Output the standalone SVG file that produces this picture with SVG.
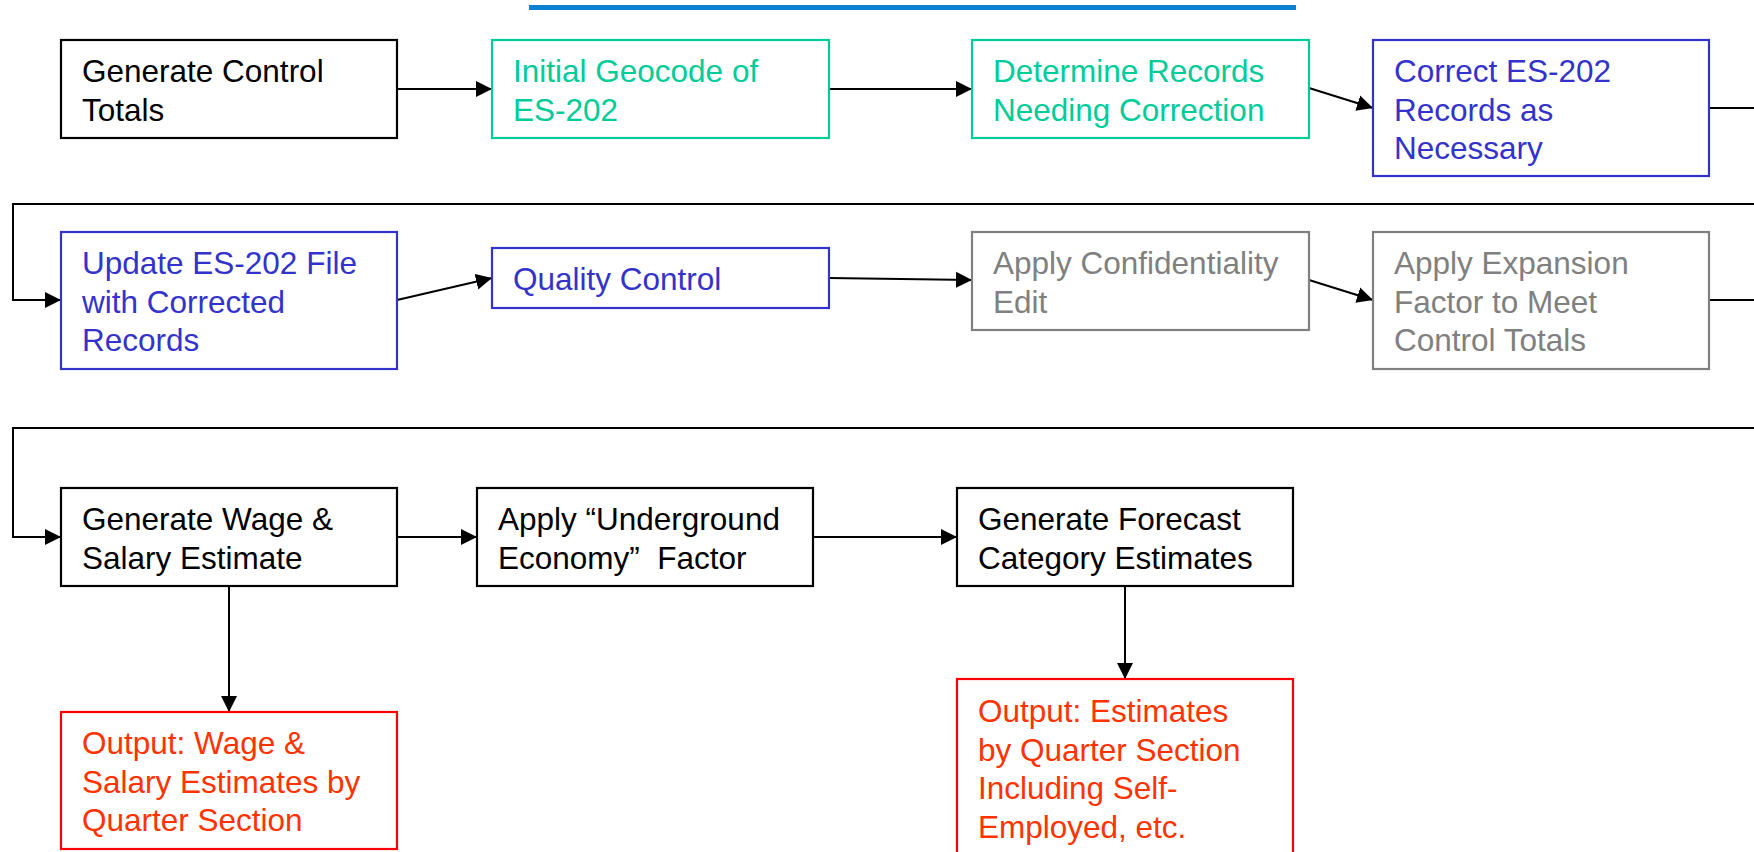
<svg xmlns="http://www.w3.org/2000/svg" width="1754" height="852" viewBox="0 0 1754 852">
<style>
  .box { fill: #ffffff; stroke-width: 2.2; }
  .k { stroke: #000000; }
  .g { stroke: #00CC99; }
  .b { stroke: #3333CC; }
  .gr { stroke: #808080; }
  .r { stroke: #FF0000; }
  text { font-family: "Liberation Sans", Arial, sans-serif; font-size: 31.5px; }
  .tk { fill: #000000; }
  .tg { fill: #00CC99; }
  .tb { fill: #3333CC; }
  .tgr { fill: #808080; }
  .tr { fill: #FF3300; }
  .conn { fill: none; stroke: #000000; stroke-width: 2; }
</style>
<defs>
  <marker id="ah" markerUnits="userSpaceOnUse" markerWidth="17" markerHeight="17" viewBox="0 0 17 17" refX="16" refY="8.5" orient="auto">
    <path d="M0,0.5 L16,8.5 L0,16.5 Z" fill="#000000"/>
  </marker>
</defs>
<rect width="1754" height="852" fill="#ffffff"/>
<line x1="529" y1="7.5" x2="1296" y2="7.5" stroke="#0B7FD0" stroke-width="5"/>

<g id="connectors">
  <line class="conn" x1="397" y1="89" x2="492" y2="89" marker-end="url(#ah)"/>
  <line class="conn" x1="829" y1="89" x2="972" y2="89" marker-end="url(#ah)"/>
  <line class="conn" x1="1309" y1="88" x2="1373" y2="108" marker-end="url(#ah)"/>
  <polyline class="conn" points="1709,108 1754,108"/>
  <polyline class="conn" points="1760,204 13,204 13,300 61,300" marker-end="url(#ah)"/>
  <line class="conn" x1="397" y1="300" x2="492" y2="278" marker-end="url(#ah)"/>
  <line class="conn" x1="829" y1="278" x2="972" y2="280" marker-end="url(#ah)"/>
  <line class="conn" x1="1309" y1="280" x2="1373" y2="300" marker-end="url(#ah)"/>
  <polyline class="conn" points="1709,300 1754,300"/>
  <polyline class="conn" points="1760,428 13,428 13,537 61,537" marker-end="url(#ah)"/>
  <line class="conn" x1="397" y1="537" x2="477" y2="537" marker-end="url(#ah)"/>
  <line class="conn" x1="813" y1="537" x2="957" y2="537" marker-end="url(#ah)"/>
  <line class="conn" x1="229" y1="586" x2="229" y2="712" marker-end="url(#ah)"/>
  <line class="conn" x1="1125" y1="586" x2="1125" y2="679" marker-end="url(#ah)"/>
</g>

<g id="n1">
  <rect class="box k" x="61" y="40" width="336" height="98"/>
  <text class="tk" x="82" y="82">Generate Control</text>
  <text class="tk" x="82" y="120.5">Totals</text>
</g>
<g id="n2">
  <rect class="box g" x="492" y="40" width="337" height="98"/>
  <text class="tg" x="513" y="82">Initial Geocode of</text>
  <text class="tg" x="513" y="120.5">ES-202</text>
</g>
<g id="n3">
  <rect class="box g" x="972" y="40" width="337" height="98"/>
  <text class="tg" x="993" y="82">Determine Records</text>
  <text class="tg" x="993" y="120.5">Needing Correction</text>
</g>
<g id="n4">
  <rect class="box b" x="1373" y="40" width="336" height="136"/>
  <text class="tb" x="1394" y="82">Correct ES-202</text>
  <text class="tb" x="1394" y="120.5">Records as</text>
  <text class="tb" x="1394" y="159">Necessary</text>
</g>
<g id="n5">
  <rect class="box b" x="61" y="232" width="336" height="137"/>
  <text class="tb" x="82" y="274">Update ES-202 File</text>
  <text class="tb" x="82" y="312.5">with Corrected</text>
  <text class="tb" x="82" y="351">Records</text>
</g>
<g id="n6">
  <rect class="box b" x="492" y="248" width="337" height="60"/>
  <text class="tb" x="513" y="290">Quality Control</text>
</g>
<g id="n7">
  <rect class="box gr" x="972" y="232" width="337" height="98"/>
  <text class="tgr" x="993" y="274">Apply Confidentiality</text>
  <text class="tgr" x="993" y="312.5">Edit</text>
</g>
<g id="n8">
  <rect class="box gr" x="1373" y="232" width="336" height="137"/>
  <text class="tgr" x="1394" y="274">Apply Expansion</text>
  <text class="tgr" x="1394" y="312.5">Factor to Meet</text>
  <text class="tgr" x="1394" y="351">Control Totals</text>
</g>
<g id="n9">
  <rect class="box k" x="61" y="488" width="336" height="98"/>
  <text class="tk" x="82" y="530">Generate Wage &amp;</text>
  <text class="tk" x="82" y="568.5">Salary Estimate</text>
</g>
<g id="n10">
  <rect class="box k" x="477" y="488" width="336" height="98"/>
  <text class="tk" x="498" y="530">Apply “Underground</text>
  <text class="tk" x="498" y="568.5" xml:space="preserve">Economy”  Factor</text>
</g>
<g id="n11">
  <rect class="box k" x="957" y="488" width="336" height="98"/>
  <text class="tk" x="978" y="530">Generate Forecast</text>
  <text class="tk" x="978" y="568.5">Category Estimates</text>
</g>
<g id="n12">
  <rect class="box r" x="61" y="712" width="336" height="137"/>
  <text class="tr" x="82" y="754">Output: Wage &amp;</text>
  <text class="tr" x="82" y="792.5">Salary Estimates by</text>
  <text class="tr" x="82" y="831">Quarter Section</text>
</g>
<g id="n13">
  <rect class="box r" x="957" y="679" width="336" height="200"/>
  <text class="tr" x="978" y="722">Output: Estimates</text>
  <text class="tr" x="978" y="760.5">by Quarter Section</text>
  <text class="tr" x="978" y="799">Including Self-</text>
  <text class="tr" x="978" y="837.5">Employed, etc.</text>
</g>
</svg>
